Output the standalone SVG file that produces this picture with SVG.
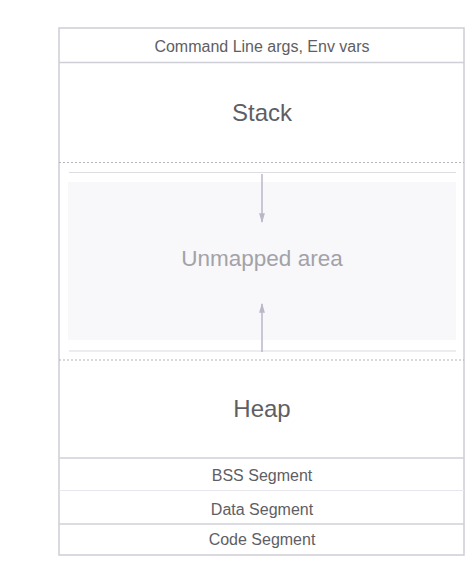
<svg xmlns="http://www.w3.org/2000/svg" width="476" height="567" viewBox="0 0 476 567">
<style>
.lbl{font-family:"Liberation Sans",Arial,sans-serif;fill:#5e5e64;text-anchor:middle}
.sm{font-size:16px}
.lg{font-size:24px}
.sep{stroke:#cfcfd8;stroke-width:1.5}
.sepl{stroke:#e6e6ec;stroke-width:1}
.dot{stroke:#b4b4bc;stroke-width:1;stroke-dasharray:2 2}
.arr{stroke:#b8b8c8;stroke-width:1.5;fill:none}
</style>
<defs>
<marker id="ah" viewBox="0 0 10 6" refX="9" refY="3" markerWidth="6.5" markerHeight="4" orient="auto" markerUnits="strokeWidth">
<path d="M0,0 L10,3 L0,6 z" fill="#b8b8c8"/>
</marker>
</defs>
<rect x="0" y="0" width="476" height="567" fill="#ffffff"/>
<g id="unmapped">
<rect x="68" y="182" width="388" height="158" fill="#f8f8fa"/>
<line x1="69" y1="172.5" x2="456" y2="172.5" stroke="#dcdce2" stroke-width="1.2"/>
<line x1="69" y1="351" x2="456" y2="351" stroke="#dcdce2" stroke-width="1.2"/>
<text class="lbl" x="262" y="266" style="font-size:22.5px;fill:#a2a2a8">Unmapped area</text>
</g>
<g id="outer">
<rect x="59" y="28" width="405" height="527" fill="none" stroke="#d0d0d8" stroke-width="1.6"/>
</g>
<g id="header">
<line class="sep" x1="59" y1="62.5" x2="464" y2="62.5"/>
<text class="lbl sm" x="262" y="52">Command Line args, Env vars</text>
</g>
<g id="stack">
<text class="lbl lg" x="262" y="121">Stack</text>
<line class="dot" x1="59" y1="162.5" x2="464" y2="162.5"/>
</g>
<g id="heap">
<line class="dot" x1="59" y1="360" x2="464" y2="360"/>
<text class="lbl lg" x="262" y="417">Heap</text>
<line class="sep" x1="59" y1="458" x2="464" y2="458"/>
</g>
<g id="bss">
<text class="lbl sm" x="262" y="481">BSS Segment</text>
<line class="sepl" x1="59" y1="490.5" x2="464" y2="490.5"/>
</g>
<g id="data">
<text class="lbl sm" x="262" y="515">Data Segment</text>
<line class="sep" x1="59" y1="524" x2="464" y2="524"/>
</g>
<g id="code">
<text class="lbl sm" x="262" y="545">Code Segment</text>
</g>
<g id="connectors">
<line class="arr" x1="262" y1="174" x2="262" y2="222" marker-end="url(#ah)"/>
<line class="arr" x1="262" y1="352" x2="262" y2="304" marker-end="url(#ah)"/>
</g>
</svg>
